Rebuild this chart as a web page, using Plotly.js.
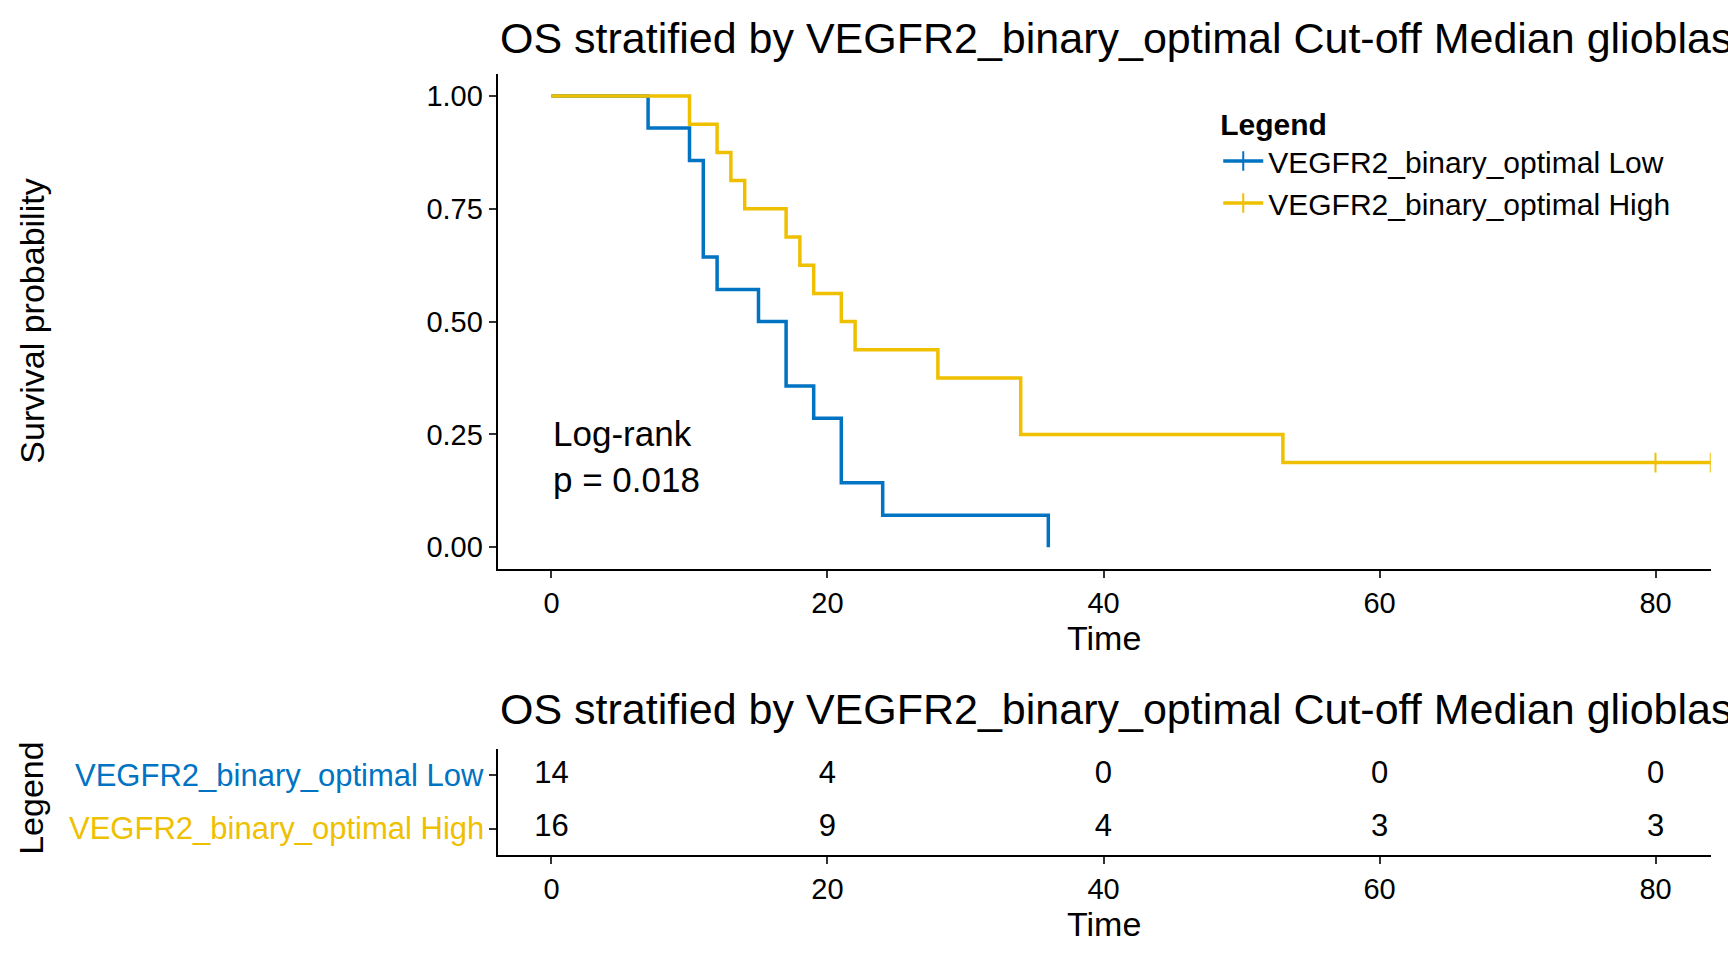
<!DOCTYPE html>
<html>
<head>
<meta charset="utf-8">
<script src="https://cdn.plot.ly/plotly-3.0.1.min.js"></script>
<style>body{margin:0;background:#fff}#chart{width:1728px;height:960px}</style>
</head>
<body>
<div id="chart"></div>
<script>
// Kaplan-Meier step data
const lowTime = [0, 7, 10, 11, 12, 15, 17, 19, 21, 24, 36];
const lowSurv = [1, 0.929, 0.857, 0.643, 0.571, 0.5, 0.357, 0.286, 0.143, 0.071, 0];
const highTime = [0, 10, 12, 13, 14, 17, 18, 19, 21, 22, 28, 34, 53, 84];
const highSurv = [1, 0.9375, 0.875, 0.8125, 0.75, 0.6875, 0.625, 0.5625, 0.5, 0.4375, 0.375, 0.25, 0.1875, 0.1875];
const highCensorTime = [80, 84];
const highCensorSurv = [0.1875, 0.1875];

const riskTimes = [0, 20, 40, 60, 80];
const riskLow = [14, 4, 0, 0, 0];
const riskHigh = [16, 9, 4, 3, 3];
const groupNames = ["VEGFR2_binary_optimal Low", "VEGFR2_binary_optimal High"];
const titleText = "OS stratified by VEGFR2_binary_optimal Cut-off Median glioblastoma";

const blue = "#0073C2";
const gold = "#EFC000";
const font = "Liberation Sans, Arial, sans-serif";

const traces = [
  {x: lowTime, y: lowSurv, mode: "lines", line: {shape: "hv", color: blue, width: 3.5}, showlegend: false},
  {x: highTime, y: highSurv, mode: "lines", line: {shape: "hv", color: gold, width: 3.5}, showlegend: false},
  {x: highCensorTime, y: highCensorSurv, mode: "markers", showlegend: false,
   marker: {symbol: "line-ns", size: 14, line: {color: gold, width: 2}}},
  {x: [null], y: [null], name: groupNames[0], mode: "lines+markers", line: {color: blue, width: 3.5},
   marker: {symbol: "line-ns", size: 14, line: {color: blue, width: 2}}},
  {x: [null], y: [null], name: groupNames[1], mode: "lines+markers", line: {color: gold, width: 3.5},
   marker: {symbol: "line-ns", size: 14, line: {color: gold, width: 2}}},
  {x: riskTimes, y: riskTimes.map(() => groupNames[0]), text: riskLow.map(String), mode: "text",
   textfont: {size: 31, family: font, color: "#000"}, xaxis: "x2", yaxis: "y2", showlegend: false},
  {x: riskTimes, y: riskTimes.map(() => groupNames[1]), text: riskHigh.map(String), mode: "text",
   textfont: {size: 31, family: font, color: "#000"}, xaxis: "x2", yaxis: "y2", showlegend: false}
];

const axisBase = {
  showgrid: false, zeroline: false, showline: true, linecolor: "#000", linewidth: 2,
  ticks: "outside", ticklen: 7, tickwidth: 2, tickcolor: "#333",
  tickfont: {size: 29, family: font, color: "#000"}
};

const layout = {
  width: 1728, height: 960,
  margin: {l: 0, r: 0, t: 0, b: 0},
  paper_bgcolor: "#fff", plot_bgcolor: "#fff",
  font: {family: font, color: "#000"},
  xaxis: Object.assign({}, axisBase, {domain: [0.288, 0.99], range: [-3.9, 84], tickvals: riskTimes,
    title: {text: "Time", font: {size: 34}, standoff: 4}, anchor: "y"}),
  yaxis: Object.assign({}, axisBase, {domain: [0.407, 0.923], range: [-0.049, 1.049],
    tickvals: [0, 0.25, 0.5, 0.75, 1], ticktext: ["0.00", "0.25", "0.50", "0.75", "1.00"],
    anchor: "x"}),
  xaxis2: Object.assign({}, axisBase, {domain: [0.288, 0.99], range: [-3.9, 84], tickvals: riskTimes,
    title: {text: "Time", font: {size: 34}, standoff: 4}, anchor: "y2"}),
  yaxis2: Object.assign({}, axisBase, {domain: [0.109, 0.22], range: [-0.5, 1.5],
    categoryorder: "array", categoryarray: [groupNames[1], groupNames[0]],
    showticklabels: false, anchor: "x2"}),
  legend: {x: 0.705, y: 0.9, xanchor: "left", yanchor: "top", bgcolor: "rgba(0,0,0,0)",
    title: {text: "<b>Legend</b>", font: {size: 30}}, font: {size: 30}, tracegroupgap: 12, itemwidth: 40},
  annotations: [
    {text: titleText, xref: "paper", yref: "paper", x: 0.288, y: 0.988, xanchor: "left", yanchor: "top",
     showarrow: false, font: {size: 43}},
    {text: titleText, xref: "paper", yref: "paper", x: 0.288, y: 0.289, xanchor: "left", yanchor: "top",
     showarrow: false, font: {size: 43}},
    {text: "Survival probability", xref: "paper", yref: "paper", x: 0.018, y: 0.665, textangle: -90,
     xanchor: "center", yanchor: "middle", showarrow: false, font: {size: 34}},
    {text: "Legend", xref: "paper", yref: "paper", x: 0.018, y: 0.168, textangle: -90,
     xanchor: "center", yanchor: "middle", showarrow: false, font: {size: 34}},
    {text: "Log-rank<br>p = 0.018", xref: "x", yref: "y", x: 0, y: 0.2, xanchor: "left", align: "left",
     showarrow: false, font: {size: 35}},
    {text: groupNames[0], xref: "paper", yref: "y2", x: 0.281, y: groupNames[0], xanchor: "right",
     showarrow: false, font: {size: 31, color: blue}},
    {text: groupNames[1], xref: "paper", yref: "y2", x: 0.281, y: groupNames[1], xanchor: "right",
     showarrow: false, font: {size: 31, color: gold}}
  ]
};

Plotly.newPlot("chart", traces, layout, {displayModeBar: false});
</script>
</body>
</html>
